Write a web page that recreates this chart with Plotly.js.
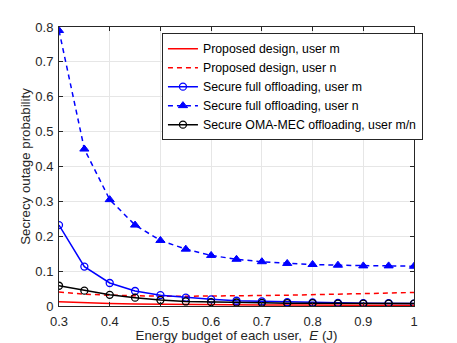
<!DOCTYPE html>
<html><head><meta charset="utf-8">
<script src="https://cdn.plot.ly/plotly-3.0.1.min.js"></script>
<style>body{margin:0;padding:0;background:#fff}#chart{width:457px;height:343px}</style>
</head><body><div id="chart"></div>
<script>
const energy = [0.3,0.35,0.4,0.45,0.5,0.55,0.6,0.65,0.7,0.75,0.8,0.85,0.9,0.95,1.0];
const proposedM = [0.012,0.009,0.007,0.006,0.005,0.004,0.004,0.003,0.003,0.003,0.002,0.002,0.002,0.002,0.002];
const proposedN = [0.040,0.034,0.031,0.029,0.028,0.028,0.028,0.029,0.030,0.031,0.032,0.034,0.035,0.037,0.039];
const fullM = [0.232,0.113,0.066,0.043,0.031,0.024,0.019,0.015,0.013,0.011,0.010,0.009,0.008,0.008,0.007];
const fullN = [0.790,0.450,0.305,0.232,0.188,0.163,0.145,0.134,0.127,0.122,0.119,0.117,0.115,0.115,0.114];
const omaMN = [0.058,0.044,0.032,0.024,0.017,0.013,0.011,0.010,0.009,0.008,0.008,0.007,0.007,0.007,0.007];
const names = ['Proposed design, user m','Proposed design, user n','Secure full offloading, user m','Secure full offloading, user n','Secure OMA-MEC offloading, user m/n'];
const xTicks = [0.3,0.4,0.5,0.6,0.7,0.8,0.9,1];
const xTickText = ['0.3','0.4','0.5','0.6','0.7','0.8','0.9','1'];
const yTicks = [0,0.1,0.2,0.3,0.4,0.5,0.6,0.7,0.8];
const yTickText = ['0','0.1','0.2','0.3','0.4','0.5','0.6','0.7','0.8'];

const traces = [
 {x:energy,y:proposedM,name:names[0],mode:'lines',line:{color:'#ff0000',width:1.5}},
 {x:energy,y:proposedN,name:names[1],mode:'lines',line:{color:'#ff0000',width:1.5,dash:'5px,4px'}},
 {x:energy,y:fullM,name:names[2],mode:'lines+markers',line:{color:'#0000ff',width:1.5},marker:{symbol:'circle-open',size:7,color:'#0000ff',line:{width:1.3}}},
 {x:energy,y:fullN,name:names[3],mode:'lines+markers',line:{color:'#0000ff',width:1.5,dash:'5px,4px'},marker:{symbol:'triangle-up',size:8,color:'#0000ff',line:{width:1,color:'#0000ff'}}},
 {x:energy,y:omaMN,name:names[4],mode:'lines+markers',line:{color:'#000000',width:1.5},marker:{symbol:'circle-open',size:7,color:'#000000',line:{width:1.3}}}
];
const axisCommon = {showline:true,mirror:'ticks',linecolor:'#262626',linewidth:1,ticks:'inside',ticklen:4,tickcolor:'#262626',
  showgrid:true,gridcolor:'#e6e6e6',gridwidth:1,zeroline:false,tickfont:{family:'Liberation Sans, Arial',size:13,color:'#262626'}};
const layout = {
 width:457,height:343,margin:{l:59,r:43,t:27,b:37},
 paper_bgcolor:'#fff',plot_bgcolor:'#fff',showlegend:true,
 font:{family:'Liberation Sans, Arial',color:'#262626'},
 xaxis:Object.assign({},axisCommon,{range:[0.3,1],tickvals:xTicks,ticktext:xTickText,ticklabelstandoff:3,
   title:{text:'Energy budget of each user,  <i>E</i> (J)',font:{size:13.3,color:'#262626'},standoff:1}}),
 yaxis:Object.assign({},axisCommon,{range:[0,0.8],tickvals:yTicks,ticktext:yTickText,ticklabelstandoff:2,
   title:{text:'Secrecy outage probability',font:{size:13.3,color:'#262626'},standoff:1}}),
 legend:{x:0.29,y:0.978,xanchor:'left',yanchor:'top',bgcolor:'#fff',bordercolor:'#262626',borderwidth:1,
   font:{size:12.3,color:'#000'},tracegroupgap:0,itemwidth:30}
};
Plotly.newPlot('chart',traces,layout,{displayModeBar:false,staticPlot:true});
</script></body></html>
